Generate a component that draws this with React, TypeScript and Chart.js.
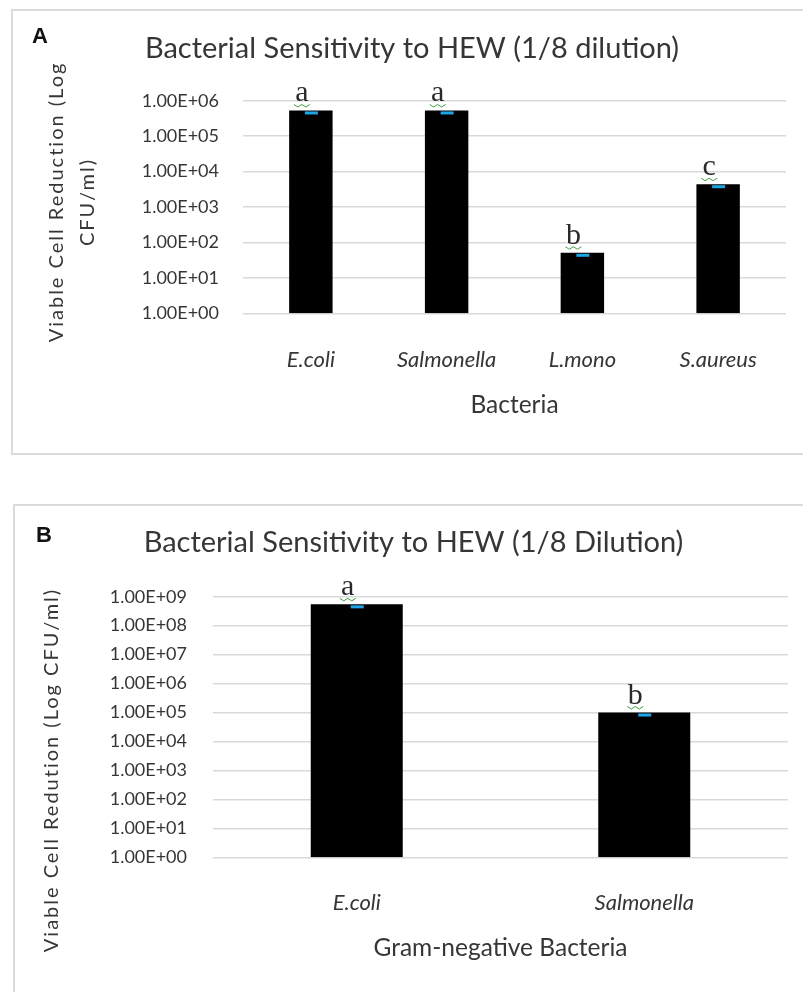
import React, { useEffect, useRef } from "react";
import { Chart, registerables } from "chart.js";

Chart.register(...registerables);

// ---------- Data: panel A ----------
const categoriesA = ["E.coli", "Salmonella", "L.mono", "S.aureus"];
const valuesA = [5.3e5, 5.3e5, 51, 4.4e3];
const lettersA = ["a", "a", "b", "c"];
const yTicksA = [1, 10, 100, 1e3, 1e4, 1e5, 1e6];
const yTickLabelsA = ["1.00E+00", "1.00E+01", "1.00E+02", "1.00E+03", "1.00E+04", "1.00E+05", "1.00E+06"];

// ---------- Data: panel B ----------
const categoriesB = ["E.coli", "Salmonella"];
const valuesB = [5.45e8, 1.0e5];
const lettersB = ["a", "b"];
const yTicksB = [1, 10, 100, 1e3, 1e4, 1e5, 1e6, 1e7, 1e8, 1e9];
const yTickLabelsB = ["1.00E+00", "1.00E+01", "1.00E+02", "1.00E+03", "1.00E+04", "1.00E+05", "1.00E+06", "1.00E+07", "1.00E+08", "1.00E+09"];

const FONT = "Lato";
const TEXT = "#363636";
const GRID = "#d9d9d9";

function annotPlugin(
  letters: string[],
  panel: string,
  panelPos: [number, number],
  yTitle: { lines: string[]; x: number; y: number; lineGap: number }
) {
  return {
    id: "annot" + panel,
    afterDatasetsDraw(chart: any) {
      const ctx = chart.ctx;
      const meta = chart.getDatasetMeta(0);
      ctx.save();
      meta.data.forEach((bar: any, i: number) => {
        const x = bar.x;
        const top = bar.y;
        // small error cap
        ctx.fillStyle = "#1ea5e6";
        ctx.fillRect(x - 6, top + 1, 13, 3);
        // significance letter
        const lx = x - 9;
        const base = top - 9;
        ctx.font = '30px "Liberation Serif"';
        ctx.fillStyle = "#2a2a2a";
        ctx.textAlign = "center";
        ctx.textBaseline = "alphabetic";
        ctx.fillText(letters[i], lx, base);
        // squiggle
        ctx.strokeStyle = "#3f9f3f";
        ctx.lineWidth = 1;
        ctx.beginPath();
        const sy = base + 3;
        for (let k = 0; k <= 4; k++) {
          const px = lx - 8 + k * 4;
          const py = sy + (k % 2 === 0 ? 0 : 2.5);
          if (k === 0) ctx.moveTo(px, py);
          else ctx.lineTo(px, py);
        }
        ctx.stroke();
      });
      // panel letter
      ctx.font = 'bold 22px "Liberation Sans"';
      ctx.fillStyle = "#111";
      ctx.textAlign = "left";
      ctx.textBaseline = "alphabetic";
      ctx.fillText(panel, panelPos[0], panelPos[1]);
      // y axis title (rotated)
      ctx.translate(yTitle.x, yTitle.y);
      ctx.rotate(-Math.PI / 2);
      ctx.font = `20px ${FONT}`;
      try {
        (ctx as any).letterSpacing = "2px";
      } catch (e) {}
      ctx.fillStyle = TEXT;
      ctx.textAlign = "center";
      ctx.textBaseline = "middle";
      yTitle.lines.forEach((ln, k) => ctx.fillText(ln, 0, k * yTitle.lineGap));
      ctx.restore();
    },
  };
}

function makeConfig(opts: {
  categories: string[];
  values: number[];
  yTicks: number[];
  yTickLabels: string[];
  title: string;
  titlePad: { top: number; bottom: number };
  xTitle: string;
  xTitlePadBottom: number;
  xHeight: number;
  xTickPad: number;
  yWidth: number;
  yTickPad: number;
  padLeft: number;
  padRight: number;
  plugin: any;
}) {
  return {
    type: "bar" as const,
    data: {
      labels: opts.categories,
      datasets: [
        {
          data: opts.values,
          backgroundColor: "#000000",
          borderWidth: 0,
          barPercentage: 0.32,
          categoryPercentage: 1,
        },
      ],
    },
    options: {
      animation: false as const,
      responsive: false,
      maintainAspectRatio: false,
      layout: { padding: { left: opts.padLeft, right: opts.padRight, top: 0, bottom: 0 } },
      plugins: {
        legend: { display: false },
        tooltip: { enabled: false },
        title: {
          display: true,
          text: opts.title,
          color: TEXT,
          font: { family: FONT, size: 29, weight: "normal" as const, lineHeight: 1.2 },
          padding: opts.titlePad,
        },
      },
      scales: {
        x: {
          grid: { display: false },
          border: { display: false },
          ticks: {
            color: TEXT,
            font: { family: FONT, size: 22, style: "italic" as const, lineHeight: 1.2 },
            padding: opts.xTickPad,
            maxRotation: 0,
          },
          title: {
            display: true,
            text: opts.xTitle,
            color: TEXT,
            font: { family: FONT, size: 24.5, lineHeight: 1.2 },
            padding: { top: 0, bottom: opts.xTitlePadBottom },
          },
          afterFit: (s: any) => {
            s.height = opts.xHeight;
          },
        },
        y: {
          type: "logarithmic" as const,
          min: opts.yTicks[0],
          max: opts.yTicks[opts.yTicks.length - 1],
          afterBuildTicks: (s: any) => {
            s.ticks = opts.yTicks.map((v) => ({ value: v }));
          },
          grid: { color: GRID, lineWidth: 1.5, drawTicks: false },
          border: { display: false },
          ticks: {
            color: TEXT,
            font: { family: FONT, size: 18 },
            padding: opts.yTickPad,
            autoSkip: false,
            callback: (v: any) => opts.yTickLabels[opts.yTicks.indexOf(Number(v))] ?? "",
          },
          title: { display: false },
          afterFit: (s: any) => {
            s.width = opts.yWidth;
          },
        },
      },
    },
    plugins: [opts.plugin],
  };
}

export default function App() {
  const refA = useRef<HTMLCanvasElement>(null);
  const refB = useRef<HTMLCanvasElement>(null);

  useEffect(() => {
    const cfgA = makeConfig({
      categories: categoriesA,
      values: valuesA,
      yTicks: yTicksA,
      yTickLabels: yTickLabelsA,
      title: "Bacterial Sensitivity to HEW (1/8 dilution)",
      titlePad: { top: 31.6, bottom: 34.3 },
      xTitle: "Bacteria",
      xTitlePadBottom: 50.3,
      xHeight: 156.7,
      xTickPad: 25.5,
      yWidth: 205,
      yTickPad: 24,
      padLeft: 38,
      padRight: 17,
      plugin: annotPlugin(lettersA, "A", [32, 43], {
        lines: ["Viable Cell Reduction (Log", "CFU/ml)"],
        x: 56.5,
        y: 202,
        lineGap: 30.7,
      }),
    });
    const cfgB = makeConfig({
      categories: categoriesB,
      values: valuesB,
      yTicks: yTicksB,
      yTickLabels: yTickLabelsB,
      title: "Bacterial Sensitivity to HEW (1/8 Dilution)",
      titlePad: { top: 45.6, bottom: 36.3 },
      xTitle: "Gram-negative Bacteria",
      xTitlePadBottom: 29.3,
      xHeight: 134.7,
      xTickPad: 24.5,
      yWidth: 174,
      yTickPad: 26,
      padLeft: 39,
      padRight: 15,
      plugin: annotPlugin(lettersB, "B", [36, 62], {
        lines: ["Viable Cell Redution (Log CFU/ml)"],
        x: 52,
        y: 290,
        lineGap: 0,
      }),
    });
    const a = new Chart(refA.current as HTMLCanvasElement, cfgA as any);
    const b = new Chart(refB.current as HTMLCanvasElement, cfgB as any);
    return () => {
      a.destroy();
      b.destroy();
    };
  }, []);

  return (
    <div style={{ position: "absolute", left: 0, top: 0, width: 803, height: 992, overflow: "hidden", background: "#fff" }}>
      <div style={{ position: "absolute", left: 11, top: 9, width: 810, height: 446, border: "2px solid #dadada", boxSizing: "border-box" }} />
      <div style={{ position: "absolute", left: 13, top: 504, width: 810, height: 600, border: "2px solid #dadada", boxSizing: "border-box" }} />
      <canvas ref={refA} width={803} height={470} style={{ position: "absolute", left: 0, top: 0 }} />
      <canvas ref={refB} width={803} height={512} style={{ position: "absolute", left: 0, top: 480 }} />
    </div>
  );
}
